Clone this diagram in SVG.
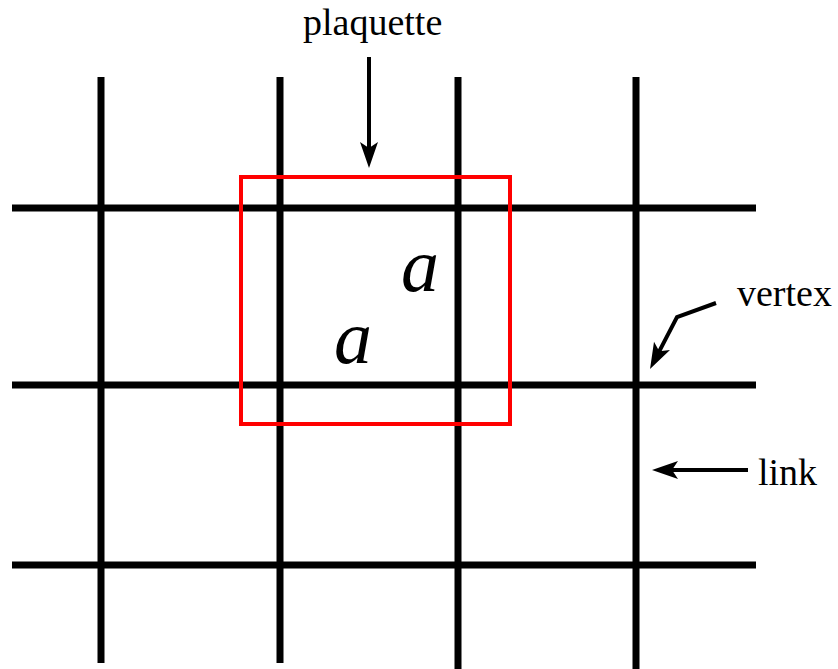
<svg xmlns="http://www.w3.org/2000/svg" width="838" height="669" viewBox="0 0 838 669">
<style>
.grid{stroke:#000;stroke-width:7;fill:none}
.lbl{font-family:"Liberation Serif","Times New Roman",serif;font-size:38px;fill:#000}
.var{font-family:"Liberation Serif","Times New Roman",serif;font-size:76px;font-style:italic;fill:#000}
.arr{stroke:#000;stroke-width:4;fill:none}
</style>
<defs>
<marker id="ah" markerUnits="userSpaceOnUse" markerWidth="40" markerHeight="40" refX="0" refY="0" viewBox="-20 -20 40 40" orient="auto" overflow="visible">
<path d="M16,0 L-10,-9 L-4,0 L-10,9 Z" fill="#000"/>
</marker>
</defs>
<rect width="838" height="669" fill="#fff"/>
<g id="lattice" class="grid">
<line x1="12" y1="208" x2="756" y2="208"/>
<line x1="12" y1="385" x2="756" y2="385"/>
<line x1="12" y1="565" x2="756" y2="565"/>
<line x1="101" y1="77" x2="101" y2="663"/>
<line x1="280" y1="77" x2="280" y2="663"/>
<line x1="458" y1="77" x2="458" y2="669"/>
<line x1="636" y1="77" x2="636" y2="669"/>
</g>
<g id="plaquette">
<rect x="241" y="177" width="269" height="247" fill="none" stroke="#f00" stroke-width="4"/>
<text class="var" x="401" y="291">a</text>
<text class="var" x="334" y="363">a</text>
</g>
<g id="label-plaquette"><text class="lbl" x="303" y="35">plaquette</text></g>
<g id="label-vertex"><text class="lbl" x="737" y="306">vertex</text></g>
<g id="label-link"><text class="lbl" x="758" y="485">link</text></g>
<g id="connectors">
<line class="arr" x1="369" y1="57" x2="369" y2="152" marker-end="url(#ah)"/>
<polyline class="arr" points="716,303 677,317 657.4,354.8" marker-end="url(#ah)"/>
<line class="arr" x1="748" y1="470" x2="668" y2="470" marker-end="url(#ah)"/>
</g>
</svg>
